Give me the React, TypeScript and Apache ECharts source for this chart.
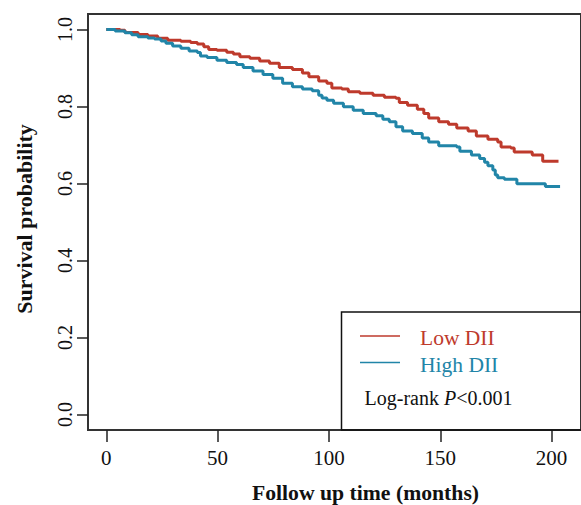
import React, { useEffect, useRef } from "react";
import * as echarts from "echarts";

const lowTime = [0, 6.2, 8.4, 14.3, 18.7, 23.1, 27.6, 33.5, 37.9, 40.9, 43.8, 46, 49.7, 54.1, 57.1, 60, 64.5, 68.9, 73.3, 77.7, 83.6, 88.1, 91, 95.4, 99.1, 101.3, 105.8, 108.7, 113.9, 119.8, 124.9, 130.1, 131.6, 135.3, 139.7, 142.6, 144.8, 149.3, 153.7, 157.4, 162.5, 166.2, 171.4, 175.8, 177.3, 181.7, 183.2, 190.6, 191.3, 196, 203.1];
const lowSurv = [1.0, 0.998, 0.992, 0.987, 0.983, 0.977, 0.972, 0.969, 0.966, 0.962, 0.955, 0.948, 0.946, 0.941, 0.936, 0.929, 0.925, 0.918, 0.912, 0.901, 0.896, 0.887, 0.877, 0.866, 0.86, 0.848, 0.845, 0.838, 0.834, 0.829, 0.824, 0.821, 0.81, 0.803, 0.793, 0.782, 0.77, 0.76, 0.754, 0.744, 0.736, 0.723, 0.715, 0.708, 0.695, 0.692, 0.682, 0.681, 0.674, 0.658, 0.658];

const highTime = [0, 4, 8.4, 11.4, 14.3, 18.7, 21.7, 24.6, 26.8, 29.8, 33.5, 37.2, 40.9, 42.3, 45.3, 49.7, 54.1, 58.5, 61.5, 65.9, 70.4, 74.8, 79.2, 83.6, 88.1, 92.5, 95.4, 96.9, 99.1, 102.1, 106.5, 110.9, 115.4, 121.2, 124.2, 127.1, 130.1, 133.1, 137.5, 141.9, 144.8, 149.3, 157.4, 158.8, 164, 167.7, 169.9, 171.4, 173.6, 174.7, 175.8, 178.8, 184.4, 197.2, 203.8];
const highSurv = [1.0, 0.996, 0.991, 0.986, 0.981, 0.978, 0.975, 0.97, 0.964, 0.957, 0.951, 0.944, 0.94, 0.931, 0.927, 0.92, 0.914, 0.909, 0.901, 0.892, 0.883, 0.873, 0.86, 0.851, 0.845, 0.841, 0.829, 0.822, 0.816, 0.808, 0.799, 0.79, 0.782, 0.776, 0.767, 0.76, 0.747, 0.736, 0.73, 0.718, 0.708, 0.698, 0.695, 0.684, 0.674, 0.665, 0.655, 0.646, 0.635, 0.622, 0.615, 0.611, 0.599, 0.592, 0.592];

const xTicks = [0, 50, 100, 150, 200];
const yTicks = [0, 0.2, 0.4, 0.6, 0.8, 1.0];

const RED = "#BE3A2C";
const BLUE = "#2185A8";
const FONT = "'Liberation Serif', 'Times New Roman', serif";

export default function App() {
  const ref = useRef<HTMLDivElement>(null);
  useEffect(() => {
    if (!ref.current) return;
    const chart = echarts.init(ref.current, null, { renderer: "svg" });
    const lowData = lowTime.map((t, i) => [t, lowSurv[i]]);
    const highData = highTime.map((t, i) => [t, highSurv[i]]);
    chart.setOption({
      animation: false,
      backgroundColor: "#ffffff",
      textStyle: { fontFamily: FONT },
      grid: {
        left: 88,
        top: 14,
        width: 500,
        height: 416,
        show: true,
        borderColor: "#333",
        borderWidth: 2,
        backgroundColor: "transparent",
      },
      xAxis: {
        type: "value",
        min: -8.2,
        max: 213.2,
        axisLine: { show: false, onZero: false },
        splitLine: { show: false },
        axisTick: {
          show: true,
          length: 12,
          inside: false,
          customValues: xTicks,
          lineStyle: { color: "#222", width: 1.5 },
        },
        axisLabel: {
          customValues: xTicks,
          margin: 17,
          color: "#111",
          fontSize: 21,
          fontFamily: FONT,
          formatter: (v: number) => String(v),
        },
      },
      yAxis: {
        type: "value",
        min: -0.04,
        max: 1.04,
        axisLine: { show: false, onZero: false },
        splitLine: { show: false },
        axisTick: {
          show: true,
          length: 11,
          inside: false,
          customValues: yTicks,
          lineStyle: { color: "#222", width: 1.5 },
        },
        axisLabel: {
          customValues: yTicks,
          rotate: 90,
          margin: 13,
          color: "#111",
          fontSize: 20,
          fontFamily: FONT,
          formatter: (v: number) => v.toFixed(1),
        },
      },
      series: [
        {
          name: "Low DII",
          type: "line",
          step: "end",
          data: lowData,
          showSymbol: false,
          symbol: "none",
          lineStyle: { color: RED, width: 3 },
          itemStyle: { color: RED },
          z: 3,
        },
        {
          name: "High DII",
          type: "line",
          step: "end",
          data: highData,
          showSymbol: false,
          symbol: "none",
          lineStyle: { color: BLUE, width: 3 },
          itemStyle: { color: BLUE },
          z: 3,
        },
      ],
      graphic: [
        {
          type: "text",
          x: 24,
          y: 219,
          rotation: Math.PI / 2,
          style: {
            text: "Survival probability",
            fontFamily: FONT,
            fontWeight: "bold",
            fontSize: 22,
            fill: "#111",
            textAlign: "center",
            textVerticalAlign: "middle",
          },
        },
        {
          type: "text",
          x: 365.5,
          y: 493,
          style: {
            text: "Follow up time (months)",
            fontFamily: FONT,
            fontWeight: "bold",
            fontSize: 21.7,
            fill: "#111",
            textAlign: "center",
            textVerticalAlign: "middle",
          },
        },
        {
          type: "rect",
          shape: { x: 341.5, y: 312, width: 300, height: 118 },
          style: { fill: "none", stroke: "#111", lineWidth: 1.5 },
          z: 10,
        },
        {
          type: "line",
          shape: { x1: 360, y1: 336, x2: 400, y2: 336 },
          style: { stroke: RED, lineWidth: 1.5 },
          z: 10,
        },
        {
          type: "line",
          shape: { x1: 360, y1: 362.5, x2: 400, y2: 362.5 },
          style: { stroke: BLUE, lineWidth: 1.5 },
          z: 10,
        },
        {
          type: "text",
          x: 420,
          y: 338,
          style: {
            text: "Low DII",
            fontFamily: FONT,
            fontSize: 21.5,
            fill: RED,
            textAlign: "left",
            textVerticalAlign: "middle",
          },
          z: 10,
        },
        {
          type: "text",
          x: 420,
          y: 364.5,
          style: {
            text: "High DII",
            fontFamily: FONT,
            fontSize: 21.5,
            fill: BLUE,
            textAlign: "left",
            textVerticalAlign: "middle",
          },
          z: 10,
        },
        {
          type: "text",
          x: 364.5,
          y: 398,
          style: {
            text: "{n|Log-rank }{i|P}{n|<0.001}",
            fontFamily: FONT,
            fontSize: 20,
            fill: "#111",
            textAlign: "left",
            textVerticalAlign: "middle",
            rich: {
              n: { fontFamily: FONT, fontSize: 20, fill: "#111" },
              i: { fontFamily: FONT, fontSize: 20, fontStyle: "italic", fill: "#111" },
            },
          },
          z: 10,
        },
      ],
    });
    return () => chart.dispose();
  }, []);
  return (
    <div
      ref={ref}
      style={{ position: "fixed", left: 0, top: 0, width: 581, height: 505, background: "#fff" }}
    />
  );
}
